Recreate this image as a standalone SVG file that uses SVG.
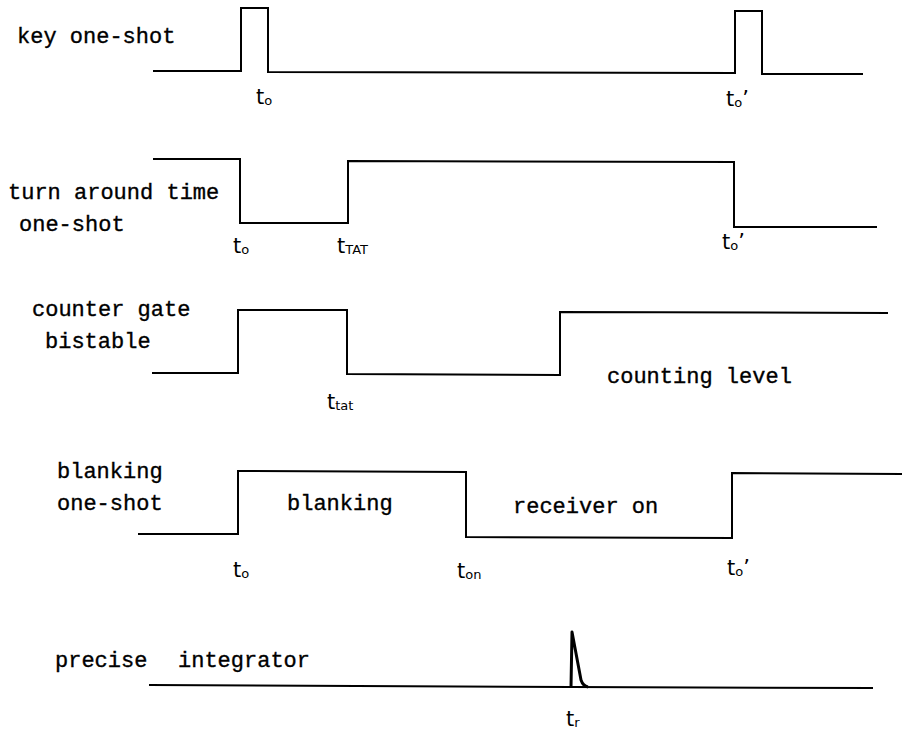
<svg xmlns="http://www.w3.org/2000/svg" width="905" height="734" viewBox="0 0 905 734">
<style>
.w{fill:none;stroke:#000;stroke-width:2;stroke-linejoin:miter}
.l{font-family:"Liberation Mono","DejaVu Sans Mono",monospace;font-size:22px;fill:#000;stroke:#000;stroke-width:0.35}
.t{font-family:"DejaVu Sans","Liberation Sans",sans-serif;font-size:21px;fill:#000}
.s{font-size:13px}
</style>
<rect width="905" height="734" fill="#fff"/>
<g id="key-one-shot">
<text class="l" x="17" y="43">key one-shot</text>
<path class="w" d="M153,71 H241 V8 H268 V72 L735,73 V11 H762 V74 H863"/>
<text class="t" x="256" y="104">t<tspan class="s" dy="1">o</tspan></text>
<text class="t" x="726" y="106">t<tspan class="s" dy="1">o</tspan><tspan dy="-1">’</tspan></text>
</g>
<g id="turn-around-time-one-shot">
<text class="l" x="8" y="199">turn around time</text>
<text class="l" x="19" y="231">one-shot</text>
<path class="w" d="M153,159 H240 V223 H348 V161 L734,162 V227 H877"/>
<text class="t" x="233" y="253">t<tspan class="s" dy="1">o</tspan></text>
<text class="t" x="337" y="253">t<tspan class="s" dy="1">TAT</tspan></text>
<text class="t" x="722" y="249">t<tspan class="s" dy="1">o</tspan><tspan dy="-1">’</tspan></text>
</g>
<g id="counter-gate-bistable">
<text class="l" x="32" y="316">counter gate</text>
<text class="l" x="45" y="348">bistable</text>
<path class="w" d="M152,373 H238 V310 H347 V374 L560,375 V312 L888,313"/>
<text class="t" x="327" y="409">t<tspan class="s" dy="1">tat</tspan></text>
<text class="l" x="607" y="383">counting level</text>
</g>
<g id="blanking-one-shot">
<text class="l" x="57" y="478">blanking</text>
<text class="l" x="57" y="510">one-shot</text>
<path class="w" d="M138,534 H238 V471 L466,472 V537 L732,538 V473 L902,474"/>
<text class="l" x="287" y="510">blanking</text>
<text class="l" x="513" y="513">receiver on</text>
<text class="t" x="233" y="577">t<tspan class="s" dy="1">o</tspan></text>
<text class="t" x="457" y="578">t<tspan class="s" dy="1">on</tspan></text>
<text class="t" x="727" y="575">t<tspan class="s" dy="1">o</tspan><tspan dy="-1">’</tspan></text>
</g>
<g id="precise-integrator">
<text class="l" x="55" y="667">precise</text>
<text class="l" x="178" y="667">integrator</text>
<path class="w" d="M149,685 L571,687 L873,688"/>
<path fill="none" stroke="#000" stroke-width="3" stroke-linejoin="round" d="M571,687 L572,632 L581,680 Q583,686 588,687"/>
<text class="t" x="566" y="726">t<tspan class="s" dy="1">r</tspan></text>
</g>
<g id="connectors"/>
</svg>
